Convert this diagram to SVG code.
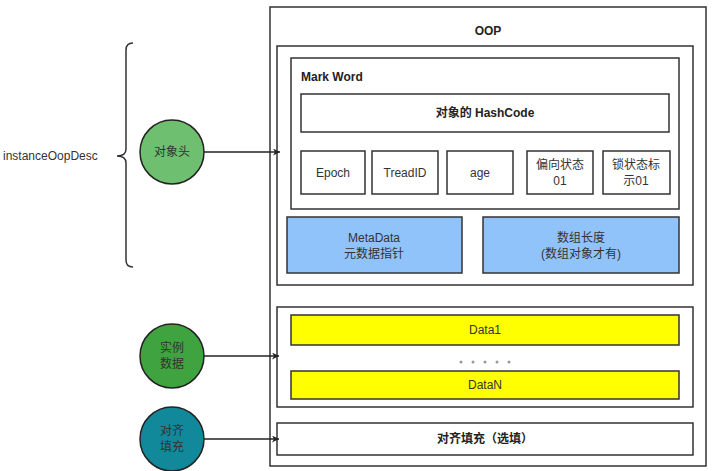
<svg xmlns="http://www.w3.org/2000/svg" width="719" height="471" viewBox="0 0 719 471">
<defs>
<style>
text{font-family:"Liberation Sans","Noto Sans CJK SC",sans-serif;font-size:12px;fill:#333;}
.c{text-anchor:middle;}
.b{font-weight:bold;fill:#222;}
.box{fill:#fff;stroke:#333;stroke-width:1.5;}
.blue{fill:#91c3fb;stroke:#333;stroke-width:1.5;}
.yel{fill:#ffff00;stroke:#333;stroke-width:1.5;}
.circ{stroke:#222;stroke-width:1.5;}
.conn{stroke:#222;stroke-width:1.5;fill:none;}
</style>
<marker id="ah" viewBox="0 0 10 10" refX="10" refY="5" markerWidth="7" markerHeight="7" markerUnits="userSpaceOnUse" orient="auto"><path d="M0,0 L10,5 L0,10 L3,5 z" fill="#222"/></marker>
</defs>
<rect width="719" height="471" fill="#fff"/>
<g id="brace">
<path d="M133,43 Q126,43 126,50 L126,149 Q126,156 117,156 Q126,156 126,163 L126,260 Q126,267 133,267" fill="none" stroke="#333" stroke-width="1.5"/>
<text x="3" y="160">instanceOopDesc</text>
</g>
<g id="oop">
<rect class="box" x="270" y="7" width="436" height="459"/>
<text class="c b" x="488" y="35">OOP</text>
</g>
<g id="header">
<rect class="box" x="277" y="46" width="416" height="239"/>
</g>
<g id="markword">
<rect class="box" x="291" y="58" width="388" height="151"/>
<text class="b" x="301" y="81">Mark Word</text>
</g>
<g id="hashcode">
<rect class="box" x="301" y="94" width="368" height="38"/>
<text class="c b" x="485" y="117">对象的 HashCode</text>
</g>
<g id="epoch"><rect class="box" x="301" y="151" width="64" height="43"/><text class="c" x="333" y="177">Epoch</text></g>
<g id="treadid"><rect class="box" x="372" y="151" width="66" height="43"/><text class="c" x="405" y="177">TreadID</text></g>
<g id="age"><rect class="box" x="447" y="151" width="66" height="43"/><text class="c" x="480" y="177">age</text></g>
<g id="biased"><rect class="box" x="527" y="151" width="66" height="43"/><text class="c" x="560" y="169">偏向状态</text><text class="c" x="560" y="185">01</text></g>
<g id="lock"><rect class="box" x="603" y="151" width="67" height="43"/><text class="c" x="636" y="169">锁状态标</text><text class="c" x="636" y="185">示01</text></g>
<g id="metadata"><rect class="blue" x="287" y="217" width="175" height="56"/><text class="c" x="374" y="242">MetaData</text><text class="c" x="374" y="258">元数据指针</text></g>
<g id="arraylen"><rect class="blue" x="483" y="217" width="196" height="56"/><text class="c" x="581" y="242">数组长度</text><text class="c" x="581" y="258">(数组对象才有)</text></g>
<g id="instdata">
<rect class="box" x="277" y="307" width="416" height="100"/>
<g fill="#999"><circle cx="461" cy="362" r="1.5"/><circle cx="473" cy="362" r="1.5"/><circle cx="485" cy="362" r="1.5"/><circle cx="497" cy="362" r="1.5"/><circle cx="509" cy="362" r="1.5"/></g>
</g>
<g id="data1"><rect class="yel" x="291" y="315" width="388" height="30"/><text class="c" x="485" y="334">Data1</text></g>
<g id="datan"><rect class="yel" x="291" y="371" width="388" height="28"/><text class="c" x="485" y="389">DataN</text></g>
<g id="padding"><rect class="box" x="277" y="423" width="416" height="32"/><text class="c b" x="485" y="443">对齐填充（选填）</text></g>
<g id="c-header"><circle class="circ" cx="172" cy="152" r="32" fill="#6ebf6f"/><text class="c" x="172" y="156">对象头</text></g>
<g id="c-inst"><circle class="circ" cx="172" cy="356" r="32" fill="#3fa43f"/><text class="c" x="172" y="352">实例</text><text class="c" x="172" y="368">数据</text></g>
<g id="c-pad"><circle class="circ" cx="172" cy="439" r="32" fill="#12899a"/><text class="c" x="172" y="435">对齐</text><text class="c" x="172" y="451">填充</text></g>
<g id="connectors">
<line class="conn" x1="204" y1="152" x2="280" y2="152" marker-end="url(#ah)"/>
<line class="conn" x1="204" y1="356" x2="279" y2="356" marker-end="url(#ah)"/>
<line class="conn" x1="204" y1="439" x2="279" y2="439" marker-end="url(#ah)"/>
</g>
</svg>
